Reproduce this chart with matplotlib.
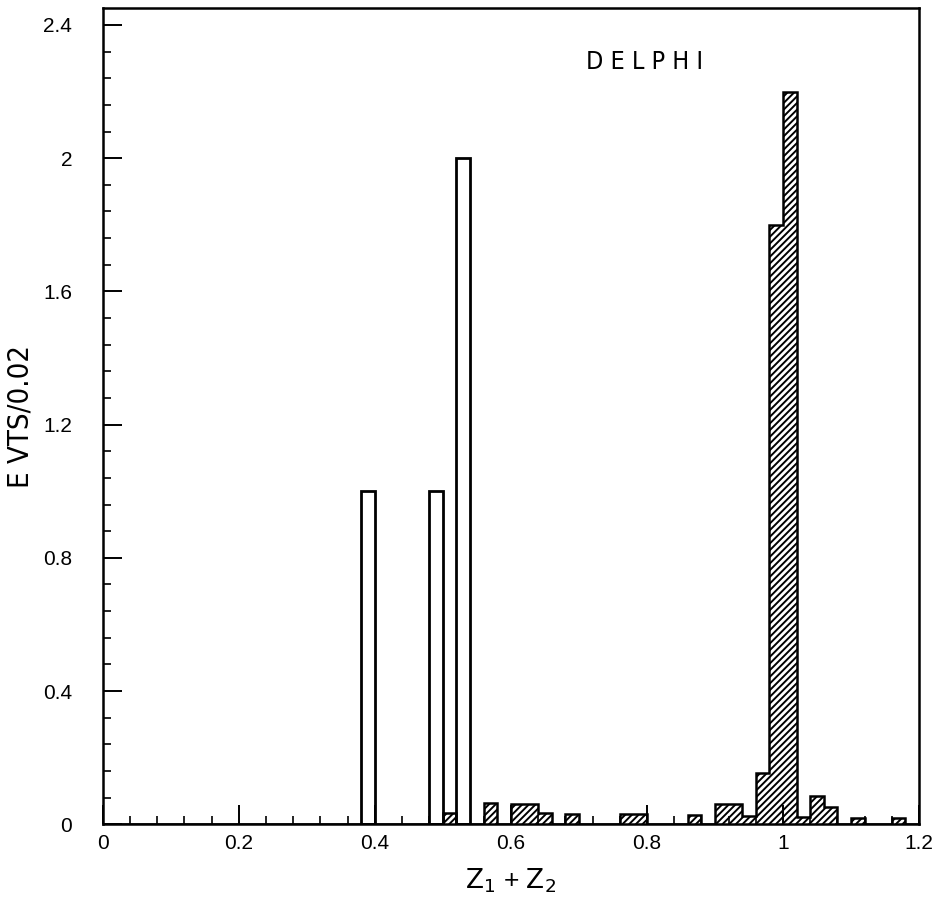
import numpy as np
from matplotlib import pyplot as plt
from matplotlib.ticker import MultipleLocator

# bin width 0.02, left edges and contents
bin_width = 0.02
open_left = [0.38, 0.48, 0.52]
open_height = [1.0, 1.0, 2.0]

hatch_left = [0.50, 0.56, 0.60, 0.62, 0.64, 0.68, 0.76, 0.78, 0.86,
              0.90, 0.92, 0.94, 0.96, 0.98, 1.00, 1.02, 1.04, 1.06,
              1.10, 1.16]
hatch_height = [0.035, 0.063, 0.06, 0.06, 0.033, 0.03, 0.03, 0.03, 0.027,
                0.06, 0.06, 0.024, 0.153, 1.8, 2.2, 0.022, 0.084, 0.051,
                0.018, 0.018]

edges = np.round(np.arange(0, 1.2 + bin_width / 2, bin_width), 4)


def fill_bins(lefts, heights):
    vals = np.zeros(len(edges) - 1)
    for l, h in zip(lefts, heights):
        vals[int(round(l / bin_width))] = h
    return vals


plt.rcParams['hatch.linewidth'] = 1.4
plt.rcParams['font.family'] = ['Liberation Sans', 'DejaVu Sans']

fig = plt.figure(figsize=(9.34, 9.24), dpi=100)
ax = fig.add_axes([0.110, 0.108, 0.874, 0.883])

# hatched histogram
ax.stairs(fill_bins(hatch_left, hatch_height), edges, fill=True,
          facecolor='white', edgecolor='black', hatch='/////', linewidth=0)
ax.stairs(fill_bins(hatch_left, hatch_height), edges, color='black',
          linewidth=1.8)

# open histogram
ax.bar(open_left, open_height, width=bin_width, align='edge', fill=False,
       edgecolor='black', linewidth=2.0)

ax.set_xlim(0, 1.2)
ax.set_ylim(0, 2.45)

ax.xaxis.set_minor_locator(MultipleLocator(0.04))
ax.yaxis.set_minor_locator(MultipleLocator(0.08))
ax.set_xticks([0, 0.2, 0.4, 0.6, 0.8, 1.0, 1.2])
ax.set_xticklabels(['0', '0.2', '0.4', '0.6', '0.8', '1', '1.2'])
ax.set_yticks([0, 0.4, 0.8, 1.2, 1.6, 2.0, 2.4])
ax.set_yticklabels(['0', '0.4', '0.8', '1.2', '1.6', '2', '2.4'])

ax.tick_params(which='major', direction='in', length=14, width=1.4,
               labelsize=15)
ax.tick_params(axis='y', which='major', pad=22)
ax.tick_params(axis='x', which='major', pad=7)
ax.tick_params(which='minor', direction='in', length=6, width=1.2)
ax.tick_params(top=False, right=False, which='both')

for s in ax.spines.values():
    s.set_linewidth(1.8)

ax.set_ylabel('E VTS/0.02', family='DejaVu Sans', fontstretch='condensed',
              fontsize=21, labelpad=6)
ax.set_xlabel(r'$\mathsf{Z_1}$ + $\mathsf{Z_2}$', fontsize=19, labelpad=10)

ax.text(0.664, 0.934, 'D E L P H I', transform=ax.transAxes,
        family='DejaVu Sans', fontstretch='condensed', fontsize=18,
        ha='center', va='center')

fig.savefig('out.png', dpi=100)
